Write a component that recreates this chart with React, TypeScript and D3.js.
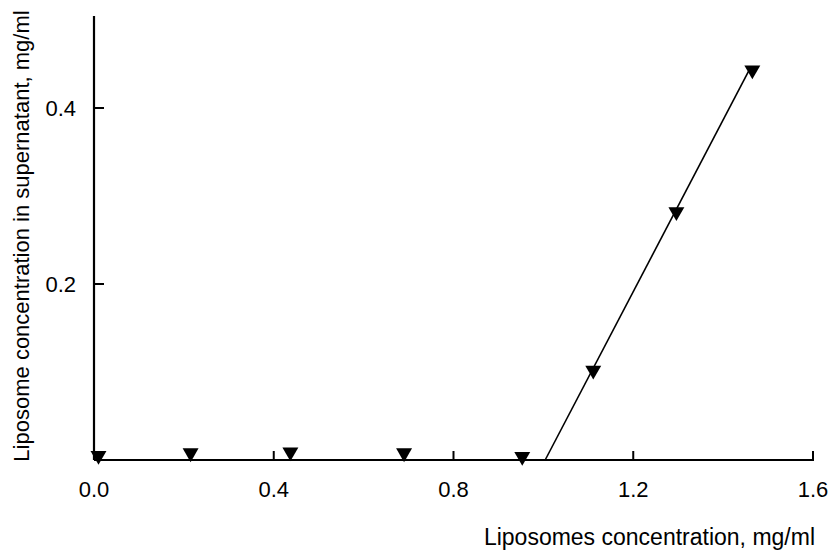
import { useRef, useEffect } from 'react';
import * as d3 from 'd3';

// measured points (liposomes added vs. left in supernatant)
const xValues = [0.01, 0.215, 0.437, 0.69, 0.953, 1.111, 1.296, 1.465];
const yValues = [0.005, 0.008, 0.009, 0.008, 0.004, 0.102, 0.282, 0.443];

// fitted line above saturation
const fitX = [1.004, 1.462];
const fitY = [0, 0.447];

const xTicks = [0, 0.4, 0.8, 1.2, 1.6];
const yTicks = [0.2, 0.4];

const App = () => {
  const ref = useRef(null);

  useEffect(() => {
    d3.select(ref.current).selectAll("*").remove();

    const width = 830;
    const height = 551;
    const left = 94;
    const bottom = 460;

    const svg = d3.select(ref.current)
      .attr("width", width)
      .attr("height", height)
      .style("font-family", "'Liberation Sans', Arial, sans-serif");

    const x = d3.scaleLinear().domain([0, 1.6]).range([left, 813]);
    const y = d3.scaleLinear().domain([0, 0.5]).range([bottom, 20]);

    // axes
    svg.append("line")
      .attr("x1", left).attr("x2", left)
      .attr("y1", 16).attr("y2", bottom)
      .attr("stroke", "#000").attr("stroke-width", 2.2);
    svg.append("line")
      .attr("x1", left).attr("x2", x(1.6) + 1)
      .attr("y1", bottom).attr("y2", bottom)
      .attr("stroke", "#000").attr("stroke-width", 2.2);

    svg.append("g")
      .selectAll("line")
      .data(xTicks.filter(d => d > 0))
      .join("line")
      .attr("x1", d => x(d)).attr("x2", d => x(d))
      .attr("y1", bottom).attr("y2", bottom - 9)
      .attr("stroke", "#000").attr("stroke-width", 2);

    svg.append("g")
      .selectAll("text")
      .data(xTicks)
      .join("text")
      .attr("x", d => x(d))
      .attr("y", 497)
      .attr("text-anchor", "middle")
      .attr("font-size", 22)
      .text(d => d.toFixed(1));

    svg.append("g")
      .selectAll("line")
      .data(yTicks)
      .join("line")
      .attr("x1", left).attr("x2", left + 10)
      .attr("y1", d => y(d)).attr("y2", d => y(d))
      .attr("stroke", "#000").attr("stroke-width", 2);

    svg.append("g")
      .selectAll("text")
      .data(yTicks)
      .join("text")
      .attr("x", 76)
      .attr("y", d => y(d))
      .attr("dy", "0.36em")
      .attr("text-anchor", "end")
      .attr("font-size", 22)
      .text(d => d.toFixed(1));

    // axis titles
    svg.append("text")
      .attr("x", 815)
      .attr("y", 545)
      .attr("text-anchor", "end")
      .attr("font-size", 23)
      .text("Liposomes concentration, mg/ml");

    svg.append("text")
      .attr("transform", "translate(29,236) rotate(-90)")
      .attr("text-anchor", "middle")
      .attr("font-size", 22)
      .text("Liposome concentration in supernatant, mg/ml");

    // fit line
    const line = d3.line()
      .x(d => x(d[0]))
      .y(d => y(d[1]));
    svg.append("path")
      .datum(fitX.map((v, i) => [v, fitY[i]]))
      .attr("d", line)
      .attr("fill", "none")
      .attr("stroke", "#000")
      .attr("stroke-width", 1.6);

    // down triangle markers
    const tri = d3.symbol().type(d3.symbolTriangle).size(110);
    svg.append("g")
      .selectAll("path")
      .data(xValues.map((v, i) => [v, yValues[i]]))
      .join("path")
      .attr("d", tri)
      .attr("transform", d => `translate(${x(d[0])},${y(d[1])}) rotate(180)`)
      .attr("fill", "#000");
  }, []);

  return (
    <svg ref={ref} style={{ position: "absolute", left: 0, top: 0 }} />
  );
};

export default App;
